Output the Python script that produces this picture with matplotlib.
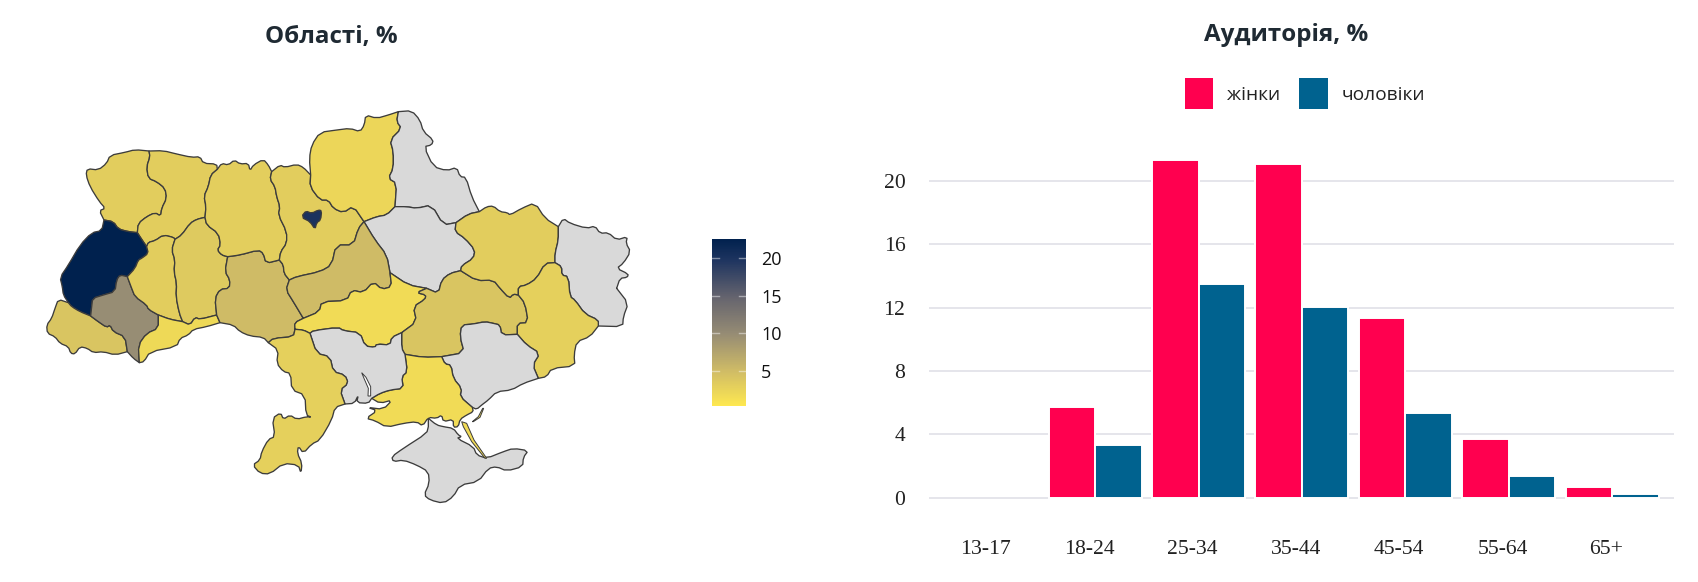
import numpy as np
import matplotlib
matplotlib.use('Agg')
import matplotlib.pyplot as plt
from matplotlib.patches import Polygon, Patch
from matplotlib.colors import LinearSegmentedColormap, Normalize
from matplotlib.cm import ScalarMappable

W, H = 1698, 582

# ---------- bar chart data ----------
age_groups = ['13-17', '18-24', '25-34', '35-44', '45-54', '55-64', '65+']
women = [0, 5.76, 21.36, 21.07, 11.38, 3.68, 0.66]
men = [0, 3.36, 13.53, 12.05, 5.32, 1.36, 0.26]
y_ticks = [0, 4, 8, 12, 16, 20]
series_names = ['жінки', 'чоловіки']
titles = ['Області, %', 'Аудиторія, %']

# ---------- map data: value per region (None = no data) ----------
region_values = {
    'Волинська': 3.1, 'Рівненська': 3.1, 'Житомирська': 3.0, 'Київська': 3.1,
    'Чернігівська': 2.2, 'Сумська': None, 'Полтавська': None, 'Харківська': 3.1,
    'Луганська': None, 'Донецька': 2.8, 'Дніпропетровська': 4.0,
    'Кіровоградська': 1.6, 'Черкаська': 5.0, 'Вінницька': 5.0,
    'Хмельницька': 3.5, 'Тернопільська': 3.1, 'Львівська': 22.6,
    'Івано-Франківська': 9.8, 'Закарпатська': 4.0, 'Чернівецька': 1.9,
    'Одеська': 2.8, 'Миколаївська': None, 'Херсонська': 1.6, 'Запорізька': None,
    'Крим': None, 'м. Київ': 20.0,
}
colorbar_ticks = [5, 10, 15, 20]

# map outlines: shared border arcs, traced in 3x tracing frames
FRAMES = {'a': (0, 80), 'b': (220, 80), 'c': (240, 320), 'd': (300, 240), 'e': (200, 240)}
ARCS = {
 'vol_out': ('a', [(447,213),(405,209),(375,217),(330,226),(320,250),(295,270),(262,266),(258,285),(270,320),(298,365),(316,385),(298,392),(312,420)]),
 'vol_lv': ('a', [(312,420),(340,425),(355,447),(385,455),(412,458)]),
 'vol_rv': ('a', [(412,458),(415,430),(440,410),(465,398),(482,408),(485,385),(500,355),(495,325),(470,305),(445,295),(440,260),(450,230),(447,213)]),
 'rv_n': ('a', [(447,213),(490,212),(530,222),(575,232),(600,230),(610,250),(650,252),(652,268)]),
 'rv_zh': ('a', [(652,268),(632,285),(625,320),(612,348),(618,380),(615,412)]),
 'rv_kh': ('a', [(615,412),(590,418),(570,430),(545,465),(525,478)]),
 'rv_te': ('a', [(525,478),(520,472),(490,465),(465,482),(445,487),(440,500)]),
 'rv_lv': ('a', [(440,500),(425,478),(412,458)]),
 'lv_out': ('a', [(205,668),(190,645),(187,620),(180,592),(205,555),(240,495),(275,458),(305,452),(312,420)]),
 'lv_te': ('a', [(440,500),(445,520),(425,535),(415,540),(405,565),(382,590)]),
 'lv_if': ('a', [(382,590),(360,585),(350,600),(345,635),(310,645),(278,655),(275,680),(272,708)]),
 'lv_za': ('a', [(272,708),(240,695),(215,680),(205,668)]),
 'za_out': ('a', [(382,815),(345,825),(310,815),(280,818),(262,805),(240,800),(225,822),(212,820),(205,800),(180,790),(165,770),(142,760),(140,735),(155,715),(165,685),(175,658),(205,668)]),
 'za_if': ('a', [(272,708),(295,725),(320,742),(330,735),(340,755),(375,770),(382,815)]),
 'if_te': ('a', [(382,590),(395,625),(405,650),(440,675),(445,688),(475,705)]),
 'if_ch': ('a', [(475,705),(475,745),(440,760),(415,795),(418,848)]),
 'if_out': ('a', [(418,848),(400,835),(382,815)]),
 'te_kh': ('a', [(525,478),(515,510),(525,540),(522,575),(530,610),(528,650),(538,700),(548,725)]),
 'te_ch': ('a', [(475,705),(510,718),(548,725)]),
 'kh_zh': ('a', [(615,412),(620,435),(655,460),(662,495),(652,510),(665,525),(683,530)]),
 'kh_vn': ('a', [(683,530),(675,575),(690,600),(688,625),(660,628),(645,655),(650,705)]),
 'kh_ch': ('a', [(548,725),(570,735),(585,712),(600,718),(650,705)]),
 'ch_vn': ('a', [(650,705),(660,728)]),
 'ch_out': ('a', [(660,728),(620,740),(580,748),(565,765),(540,775),(530,800),(450,815),(432,845),(418,848)]),
 'vn_out': ('a', [(660,728),(700,735),(720,755),(750,768),(790,772),(805,788)]),
 'zh_vn': ('a', [(683,530),(720,525),(775,510),(790,520),(798,550),(838,540)]),
 'vn_ky': ('a', [(838,540),(850,555),(852,580),(868,600)]),
 'vn_ck': ('a', [(868,600),(858,630),(880,665),(910,715)]),
 'vn_ki': ('a', [(910,715),(884,728),(885,748)]),
 'zh_n': ('a', [(652,268),(665,250),(685,255),(703,240),(720,252),(745,250),(750,272),(760,255),(790,238),(805,255),(815,275)]),
 'zh_ky': ('a', [(815,275),(810,298),(825,320),(830,350),(840,380),(835,405),(860,455),(860,490),(842,515),(838,540)]),
 'ky_n': ('a', [(815,275),(840,255),(855,262),(890,253),(910,262),(932,285)]),
 'ky_cn': ('a', [(932,285),(930,320),(960,360),(985,360),(1000,385),(1030,398),(1060,378),(1092,425)]),
 'ck_ky': ('a', [(868,600),(890,590),(960,575),(995,555),(1008,495),(1060,495),(1075,445),(1092,425)]),
 'cn_out': ('a', [(932,285),(928,235),(935,195),(960,157),(1010,150),(1050,145),(1080,155),(1093,135),(1097,105),(1130,115),(1165,105),(1195,95)]),
 'cn_sm': ('a', [(1195,95),(1190,125),(1205,145),(1170,180),(1180,215),(1180,265),(1165,295),(1190,310),(1185,380)]),
 'cn_pl': ('a', [(1185,380),(1160,405),(1130,410),(1092,425)]),
 'sm_out': ('b', [(535,95),(575,92),(600,120),(610,155),(640,180),(635,195),(612,200),(640,260),(680,272),(710,262),(720,290),(738,292),(755,350),(778,395)]),
 'sm_kh': ('b', [(778,395),(745,402),(708,428)]),
 'sm_pl': ('b', [(708,428),(670,435),(635,375),(590,385),(560,380),(525,380)]),
 'pl_kh': ('b', [(708,428),(705,455),(735,475),(765,510),(760,535),(725,557),(722,572)]),
 'pl_dn': ('d', [(482,92),(450,100),(425,120),(415,160),(380,145)]),
 'pl_ki': ('e', [(680,145),(625,135),(570,98)]),
 'pl_ck': ('b', [(510,578),(500,525),(465,480),(432,425)]),
 'ck_ki': ('e', [(570,98),(575,140),(545,148),(520,125),(490,158),(455,150),(440,182),(365,185),(358,215),(310,235)]),
 'ki_dn': ('e', [(680,145),(650,158),(678,165),(675,178),(640,200),(650,245),(605,278)]),
 'my_ki': ('e', [(605,278),(575,292),(570,315),(530,312),(525,322),(495,318),(480,278),(430,272),(415,262),(340,272),(330,280)]),
 'od_ki': ('c', [(210,40),(190,30),(165,28)]),
 'vn_od': ('c', [(85,68),(100,55),(160,50),(165,28)]),
 'od_my': ('c', [(210,40),(230,100),(270,110),(280,155),(315,165),(325,190),(300,210),(315,252)]),
 'od_out': ('c', [(315,252),(285,262),(275,300),(240,360),(215,372),(190,400),(175,378),(172,400),(186,430),(183,460),(175,435),(130,430),(90,462),(60,460),(38,435),(60,420),(65,395),(85,358),(105,350),(97,295),(122,278),(130,298),(150,285),(170,298),(200,290),(215,292),(198,285),(195,225),(155,210),(152,160),(130,155),(110,130),(115,90),(85,68)]),
 'my_he': ('c', [(495,103),(502,155),(485,170),(490,205),(450,210),(420,220),(395,235)]),
 'my_out': ('c', [(395,235),(385,250),(350,248),(355,225),(343,250),(315,252)]),
 'he_zp': ('c', [(605,110),(615,132),(633,135),(640,175),(665,205),(660,230),(697,262)]),
 'he_out': ('c', [(697,262),(700,275),(680,285),(660,298),(655,320),(640,322),(640,298),(610,305),(605,285),(590,295),(565,292),(548,318),(530,305),(490,310),(440,322),(405,302),(378,295),(412,272),(382,262),(430,268),(457,240),(420,250),(395,235)]),
 'zp_out': ('c', [(895,175),(850,190),(815,210),(770,215),(745,240),(725,255),(710,268),(697,262)]),
 'kh_n': ('b', [(778,395),(800,380),(820,378),(840,395),(862,398),(870,405),(905,385),(945,368),(975,415),(1015,440)]),
 'kh_lh': ('b', [(1015,440),(1015,480),(1005,520),(1005,548)]),
 'kh_do': ('d', [(765,68),(735,70),(710,115),(680,135),(655,140),(655,165)]),
 'kh_dn': ('d', [(655,165),(640,162),(628,175),(600,145),(580,120),(530,122),(482,92)]),
 'do_dn': ('d', [(655,165),(675,190),(685,248),(652,250),(652,283)]),
 'dn_zp': ('d', [(652,283),(605,285),(600,255),(580,250),(555,245),(520,252),(485,255),(480,290),(493,338),(425,350)]),
 'dn_he': ('d', [(425,350),(370,352),(315,343)]),
 'dn_my': ('d', [(315,343),(305,325),(305,278)]),
 'lh_out1': ('b', [(1015,440),(1030,415),(1050,430),(1100,445),(1125,438),(1140,460),(1165,458),(1190,480),(1222,470),(1218,490),(1232,515),(1210,550),(1190,565),(1225,582),(1222,592),(1200,595),(1190,625)]),
 'lh_out2': ('d', [(950,145),(985,190),(970,230),(968,260),(895,258)]),
 'lh_do': ('d', [(765,68),(785,80),(785,105),(805,110),(810,170),(825,180),(855,222),(895,240),(895,258)]),
 'do_out': ('d', [(895,258),(870,290),(830,305),(822,345),(825,378),(755,385),(740,410),(715,415)]),
 'do_zp': ('d', [(715,415),(698,375),(720,340),(680,315),(652,283)]),
 'crimea': ('c', [(565,295),(590,315),(610,320),(640,325),(655,345),(665,350),(650,355),(700,380),(710,405),(740,415),(790,395),(820,385),(865,392),(850,412),(848,440),(800,453),(770,440),(745,445),(715,485),(660,495),(640,530),(610,550),(570,540),(552,525),(568,490),(565,455),(530,435),(490,420),(460,425),(455,410),(490,385),(560,340),(565,320)]),
 'kyiv': ('a', [(908,405),(918,393),(935,400),(955,390),(965,392),(962,420),(950,428),(945,448),(930,425),(910,415)]),
 'arabat': ('c', [(665,305),(680,310),(702,360),(740,415),(735,415),(695,365),(670,320)]),
 'spit': ('c', [(697,305),(715,290),(728,265),(731,265),(720,292),(700,305)]),
 'estuary': ('c', [(365,158),(378,172),(392,200),(392,228),(384,228),(385,205),(372,175)]),
}
REGIONS = {
 'Волинська': ['vol_out','vol_lv','vol_rv'],
 'Рівненська': ['rv_n','rv_zh','rv_kh','rv_te','rv_lv','vol_rv'],
 'Львівська': ['lv_out','vol_lv','-rv_lv','lv_te','lv_if','lv_za'],
 'Закарпатська': ['za_out','-lv_za','za_if'],
 'Івано-Франківська': ['-lv_if','if_te','if_ch','if_out','-za_if'],
 'Тернопільська': ['-rv_te','te_kh','-te_ch','-if_te','-lv_te'],
 'Хмельницька': ['-rv_kh','kh_zh','kh_vn','-kh_ch','-te_kh'],
 'Чернівецька': ['te_ch','kh_ch','ch_vn','ch_out','-if_ch'],
 'Вінницька': ['zh_vn','vn_ky','vn_ck','vn_ki','-vn_od','-vn_out','-ch_vn','-kh_vn'],
 'Житомирська': ['zh_n','zh_ky','-zh_vn','-kh_zh','-rv_zh'],
 'Київська': ['ky_n','ky_cn','-ck_ky','-vn_ky','-zh_ky'],
 'Чернігівська': ['cn_out','cn_sm','cn_pl','-ky_cn'],
 'Сумська': ['sm_out','sm_kh','sm_pl','-cn_sm'],
 'Полтавська': ['-cn_pl','-sm_pl','pl_kh','pl_dn','pl_ki','pl_ck'],
 'Черкаська': ['ck_ky','-pl_ck','ck_ki','-vn_ck'],
 'Кіровоградська': ['-pl_ki','ki_dn','my_ki','od_ki','-vn_ki','-ck_ki'],
 'Дніпропетровська': ['-kh_dn','do_dn','dn_zp','dn_he','dn_my','-ki_dn','-pl_dn'],
 'Харківська': ['kh_n','kh_lh','kh_do','kh_dn','-pl_kh','-sm_kh'],
 'Луганська': ['lh_out1','lh_out2','-lh_do','-kh_lh'],
 'Донецька': ['-kh_do','lh_do','do_out','do_zp','-do_dn'],
 'Запорізька': ['-dn_zp','-do_zp','zp_out','-he_zp'],
 'Херсонська': ['-dn_he','he_zp','he_out','-my_he'],
 'Миколаївська': ['-my_ki','-dn_my','my_he','my_out','-od_my'],
 'Одеська': ['-od_ki','od_my','od_out','vn_od'],
 'Крим': ['crimea'],
 'м. Київ': ['kyiv'],
}

# ---------- styles ----------
cmap = LinearSegmentedColormap.from_list('audience', [
    (0.0, '#FEE850'), (0.21, '#CFBB66'), (0.43, '#968C74'),
    (0.65, '#65646E'), (0.87, '#1F3560'), (1.0, '#00214E')])
norm = Normalize(0.29, 22.6)
MISSING = '#D9D9D9'
EDGE = '#3C3C3C'
PINK, BLUE = '#FF004F', '#00628F'
GRID = '#DFDFE6'


def arc_px(key, smooth=True):
    """Arc in figure pixels; one corner-cutting pass rounds the traced outline."""
    rev = key.startswith('-')
    frame, pts = ARCS[key.lstrip('-')]
    ox, oy = FRAMES[frame]
    out = [(ox + x / 3, oy + y / 3) for x, y in pts]
    if smooth and len(out) > 2:
        cut = [out[0]]
        for (x0, y0), (x1, y1) in zip(out[:-1], out[1:]):
            cut.append((0.75 * x0 + 0.25 * x1, 0.75 * y0 + 0.25 * y1))
            cut.append((0.25 * x0 + 0.75 * x1, 0.25 * y0 + 0.75 * y1))
        cut.append(out[-1])
        out = cut
    return out[::-1] if rev else out


def ax_rect(l, t, r, b):
    return [l / W, 1 - b / H, (r - l) / W, (b - t) / H]


fig = plt.figure(figsize=(W / 100, H / 100), dpi=100, facecolor='white')
TITLE_FONT = ['Open Sans', 'DejaVu Sans']

# ---------- map ----------
mp = fig.add_axes([0, 0, 1, 1])
mp.set_xlim(0, W)
mp.set_ylim(H, 0)
mp.axis('off')
for name, keys in REGIONS.items():
    poly = []
    for k in keys:
        poly.extend(arc_px(k))
    val = region_values[name]
    fc = MISSING if val is None else cmap(norm(val))
    mp.add_patch(Polygon(poly, closed=True, facecolor=fc, edgecolor=EDGE,
                         linewidth=0.95, joinstyle='round'))
kherson_fill = cmap(norm(region_values['Херсонська']))
for key in ['arabat', 'spit']:
    mp.add_patch(Polygon(arc_px(key, False), closed=True, facecolor=kherson_fill,
                         edgecolor=EDGE, linewidth=0.7))
mp.add_patch(Polygon(arc_px('estuary', False), closed=True, facecolor='white',
                     edgecolor=EDGE, linewidth=0.7))

mp.text(331, 37, titles[0], ha='center', va='center', fontsize=17.4,
        fontweight='bold', color='#1F2A33', family=TITLE_FONT)
mp.text(1286, 35, titles[1], ha='center', va='center', fontsize=17.4,
        fontweight='bold', color='#1F2A33', family=TITLE_FONT)

# ---------- colorbar ----------
cax = fig.add_axes(ax_rect(712, 238.7, 745.7, 406))
sm = ScalarMappable(norm=norm, cmap=cmap)
cb = fig.colorbar(sm, cax=cax, ticks=colorbar_ticks)
cb.outline.set_visible(False)
cb.ax.tick_params(length=0, labelsize=13, pad=11, labelcolor='#111111')
for lab in cb.ax.get_yticklabels():
    lab.set_family(['Open Sans', 'DejaVu Sans'])
yt = cb.ax.get_yaxis_transform()
for t in colorbar_ticks:
    cb.ax.plot([0, 0.21], [t, t], color='white', alpha=0.45, lw=1, transform=yt)
    cb.ax.plot([0.79, 1], [t, t], color='white', alpha=0.45, lw=1, transform=yt)

# ---------- bars ----------
PX_TOP, PX_ZERO, PX_PER_UNIT = 140.0, 497.7, 15.83
PX_L, PX_R = 929.0, 1674.0
CAT_PX = 103.4
FIRST_CENTER_PX = 991.7
ax = fig.add_axes(ax_rect(PX_L, PX_TOP, PX_R, PX_ZERO + 8))
ax.set_facecolor('none')
ax.set_xlim((PX_L - FIRST_CENTER_PX) / CAT_PX, (PX_R - FIRST_CENTER_PX) / CAT_PX)
ax.set_ylim(-8 / PX_PER_UNIT, (PX_ZERO - PX_TOP) / PX_PER_UNIT)
x = np.arange(len(age_groups))
step = 0.45
ax.set_axisbelow(True)
ax.grid(axis='y', color=GRID, linewidth=1.15)
for vals, offset, colour in ((women, -step / 2, PINK), (men, step / 2, BLUE)):
    ax.bar(x + offset, vals, width=step, color=colour, edgecolor='white',
           linewidth=[1.4 if v > 0 else 0 for v in vals])
for s in ax.spines.values():
    s.set_visible(False)
ax.set_yticks(y_ticks)
ax.set_xticks(x - 0.058, age_groups)
ax.tick_params(axis='both', length=0, labelsize=15.6, labelcolor='#222222')
ax.tick_params(axis='y', pad=17)
ax.tick_params(axis='x', pad=24.5)
for lab in ax.get_xticklabels() + ax.get_yticklabels():
    lab.set_family('Liberation Serif')

handles = [Patch(facecolor=PINK, edgecolor='none', label=series_names[0]),
           Patch(facecolor=BLUE, edgecolor='none', label=series_names[1])]
fig.legend(handles=handles, ncol=2, loc='center',
           bbox_to_anchor=(1305 / W, 1 - 93.5 / H), frameon=False,
           prop={'family': ['Open Sans', 'DejaVu Sans'], 'size': 13.8},
           handlelength=1.5, handleheight=2.05, handletextpad=0.72,
           columnspacing=1.0, labelcolor='#222222')

fig.savefig('out.png', dpi=100)
